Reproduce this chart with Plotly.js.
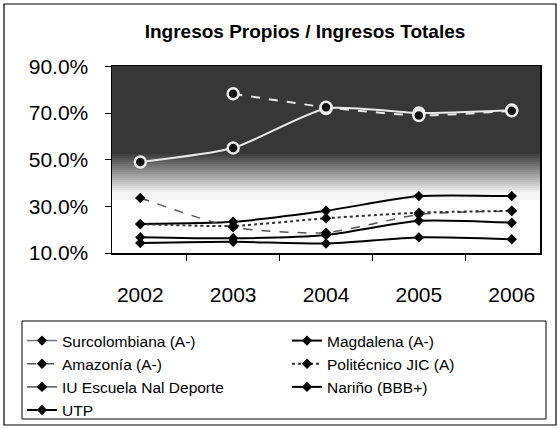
<!DOCTYPE html>
<html>
<head>
<meta charset="utf-8">
<script src="https://cdn.plot.ly/plotly-3.0.1.min.js"></script>
<style>html,body{margin:0;padding:0;background:#fff;}#chart{width:560px;height:428px;}</style>
</head>
<body>
<div id="chart"></div>
<script>
// ---- data ----
const years = ["2002", "2003", "2004", "2005", "2006"];
const seriesNames = ["Surcolombiana (A-)", "Magdalena (A-)", "Amazonía (A-)", "Politécnico JIC (A)", "IU Escuela Nal Deporte", "Nariño (BBB+)", "UTP"];
const surcolombiana = [49.0, 55.0, 72.0, 70.0, 71.3];
const magdalena     = [22.4, 23.4, 28.1, 34.4, 34.4];
const amazonia      = [33.6, 21.0, 18.7, 26.5, 28.0];
const politecnico   = [22.4, 21.6, 24.9, 27.3, 28.1];
const iuEscuela     = [null, 78.3, 72.5, 69.0, 71.0];
const narino        = [16.8, 16.3, 17.7, 23.8, 23.0];
const utp           = [14.3, 14.8, 14.1, 16.7, 15.9];
const yTickVals = [10, 30, 50, 70, 90];
const yTickText = ["10.0%", "30.0%", "50.0%", "70.0%", "90.0%"];

// ---- geometry helpers (plot area 112..540 x 66..253 px) ----
const L = 112, R = 20, T = 66, B = 175, W = 560 - L - R, H = 428 - T - B;
const px2x = px => (px - L) / W;
const py2y = py => (428 - B - py) / H;

const font = "Liberation Sans, Arial, sans-serif";

function lowerTrace(name, y, color, dash, width, showlegend) {
  return {
    type: "scatter", mode: "lines+markers", name: name, x: years, y: y,
    line: {color: color, width: width, dash: dash, shape: "spline", smoothing: 0.6},
    marker: {symbol: "diamond", size: 8, color: "#000"},
    showlegend: showlegend, hoverinfo: "skip"
  };
}
function legendOnly(name, color, dash) {
  return {
    type: "scatter", mode: "lines+markers", name: name, x: [null], y: [null],
    line: {color: color, width: 1.5, dash: dash},
    marker: {symbol: "diamond", size: 8, color: "#000"},
    showlegend: true, hoverinfo: "skip"
  };
}
function upperTrace(name, y, dash) {
  return {
    type: "scatter", mode: "lines+markers", name: name, x: years, y: y,
    line: {color: "#e8e8e8", width: 2, dash: dash, shape: "spline", smoothing: 0.6},
    marker: {symbol: "circle", size: 11, color: "#111", line: {color: "#eeeeee", width: 2.5}},
    showlegend: false, hoverinfo: "skip", connectgaps: false
  };
}

const traces = [
  legendOnly(seriesNames[0], "#777", "solid"),
  lowerTrace(seriesNames[1], magdalena, "#000", "solid", 2, true),
  lowerTrace(seriesNames[2], amazonia, "#555", "dash", 1.5, true),
  lowerTrace(seriesNames[3], politecnico, "#333", "dot", 2, true),
  legendOnly(seriesNames[4], "#555", "solid"),
  lowerTrace(seriesNames[5], narino, "#000", "solid", 2, true),
  lowerTrace(seriesNames[6], utp, "#000", "solid", 2, true),
  upperTrace(seriesNames[0], surcolombiana, "solid"),
  upperTrace(seriesNames[4], iuEscuela, "dash")
];

// background bands imitating the dark textured fill
const shapes = [];
function lerp(a, b, t) { return Math.round(a + (b - a) * t); }
for (let py = 66; py < 200; py += 2) {
  let g;
  if (py < 152) g = 55;
  else if (py < 192) g = lerp(55, 245, (py - 152) / 40);
  else g = 245;
  shapes.push({type: "rect", xref: "paper", yref: "paper", layer: "below",
    x0: 0, x1: 1, y0: py2y(py + 2), y1: py2y(py),
    fillcolor: "rgb(" + g + "," + g + "," + g + ")", line: {width: 0}});
}
// outer chart border
shapes.push({type: "rect", xref: "paper", yref: "paper", layer: "above",
  x0: px2x(4), x1: px2x(556), y0: py2y(425), y1: py2y(4),
  line: {color: "#000", width: 1.2}, fillcolor: "rgba(0,0,0,0)"});
// legend box
shapes.push({type: "rect", xref: "paper", yref: "paper", layer: "above",
  x0: px2x(22), x1: px2x(546), y0: py2y(419), y1: py2y(321),
  line: {color: "#000", width: 1}, fillcolor: "rgba(0,0,0,0)"});

const layout = {
  width: 560, height: 428,
  margin: {l: L, r: R, t: T, b: B, pad: 0, autoexpand: false},
  paper_bgcolor: "#fff", plot_bgcolor: "#fff",
  font: {family: font, color: "#000"},
  title: {text: "<b>Ingresos Propios / Ingresos Totales</b>", font: {family: font, size: 19, color: "#000"},
    x: 305 / 560, xanchor: "center", y: 1 - 31 / 428, yanchor: "middle", xref: "container", yref: "container"},
  xaxis: {type: "category", showgrid: false, zeroline: false, showline: true, linecolor: "#000", linewidth: 1.5,
    mirror: true, ticks: "outside", ticklen: 6, tickcolor: "#000", tickson: "boundaries",
    tickfont: {family: font, size: 21, color: "#000"}, ticklabelstandoff: 22, fixedrange: true},
  yaxis: {range: [10, 90.2], tickmode: "array", tickvals: yTickVals, ticktext: yTickText,
    showgrid: false, zeroline: false, showline: true, linecolor: "#000", linewidth: 1.5, mirror: true,
    ticks: "outside", ticklen: 6, tickcolor: "#000",
    tickfont: {family: font, size: 21, color: "#000"}, ticklabelstandoff: 12, fixedrange: true},
  showlegend: true,
  legend: {orientation: "h", x: px2x(22), y: py2y(324), xanchor: "left", yanchor: "top",
    bgcolor: "rgba(0,0,0,0)", borderwidth: 0,
    font: {family: font, size: 15.5, color: "#000"},
    entrywidth: 220, entrywidthmode: "pixels", traceorder: "normal", itemwidth: 30},
  shapes: shapes
};

Plotly.newPlot("chart", traces, layout, {staticPlot: true, displayModeBar: false});
</script>
</body>
</html>
